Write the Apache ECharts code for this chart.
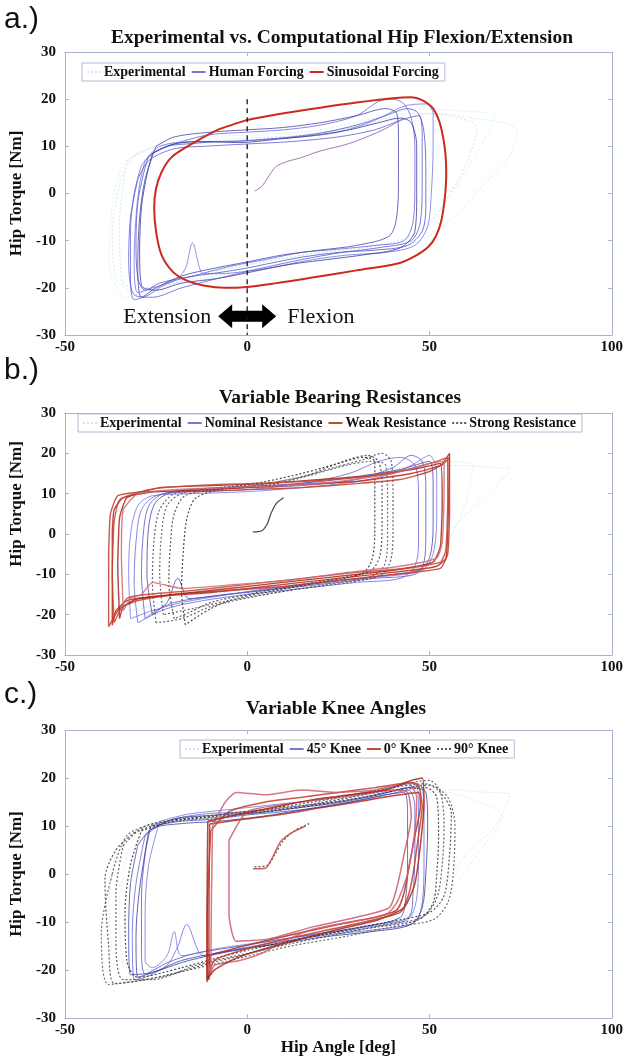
<!DOCTYPE html>
<html>
<head>
<meta charset="utf-8">
<script src="https://cdn.jsdelivr.net/npm/echarts@6/dist/echarts.min.js"></script>
<style>html,body{margin:0;padding:0;background:#fff}#c{width:626px;height:1057px}</style>
</head>
<body>
<div id="c"></div>
<script>
// ---------- axis ranges / tick labels ----------
const X_MIN = -50, X_MAX = 100, X_STEP = 50;
const Y_MIN = -30, Y_MAX = 30, Y_STEP = 10;

// ---------- legends / titles ----------
const LEGEND_A = ['Experimental', 'Human Forcing', 'Sinusoidal Forcing'];
const LEGEND_B = ['Experimental', 'Nominal Resistance', 'Weak Resistance', 'Strong Resistance'];
const LEGEND_C = ['Experimental', '45° Knee', '0° Knee', '90° Knee'];
const TITLES = ['Experimental vs. Computational Hip Flexion/Extension', 'Variable Bearing Resistances', 'Variable Knee Angles'];
const PANEL_TAGS = ['a.)', 'b.)', 'c.)'];

// ---------- panel a data (hip angle [deg], hip torque [Nm]) ----------
const A_SIN = [[[0,15.6],[10,17],[20,18.2],[30,19.3],[40,20.2],[45,20.4],[48,19.8],[51,18],[53,14.5],[54.3,9],[54.6,4],[54.2,-1],[53.3,-5.6],[51.8,-9],[49.7,-11.3],[46,-13.3],[41.6,-14.8],[30,-16.3],[18.8,-17.7],[8,-19],[0,-19.8],[-6,-20],[-12,-19.5],[-17,-18.3],[-20.5,-16.5],[-23.5,-13],[-25,-8],[-25.5,-3],[-25,1],[-23.5,4.5],[-21,7.5],[-17.4,9.5],[-13,11.5],[-8.4,13.4],[-4,14.6],[0,15.6]]];
const A_HUMAN = [
 [[-27,8],[-22,10],[-15,10.6],[-8,11],[0,11.2],[10,11.8],[20,12.8],[30,14.5],[38,16.5],[44,18],[47,17],[48.5,13],[49,5],[49,-3],[48,-8],[44,-11],[35,-12],[25,-12.5],[15,-13.5],[5,-15],[0,-15.8],[-8,-16.8],[-17,-17.8],[-24,-19],[-28,-20.5],[-30,-18],[-30.5,-10],[-30,-2],[-28.5,4],[-27,8]],
 [[-29,6],[-25,9],[-18,11],[-10,12.5],[0,13],[10,13.5],[20,14.5],[30,16.5],[36,19.5],[40,20],[43,19],[45,16],[46,10],[46,2],[45.5,-6],[43,-10],[35,-11],[25,-11.8],[15,-12.5],[5,-14],[-5,-15.5],[-15,-17.5],[-22,-19],[-27,-21.5],[-31,-22.5],[-32,-18],[-32,-8],[-31,0],[-29,6]],
 [[-25,10],[-20,12],[-10,13],[0,13.5],[10,14],[20,15],[30,16.5],[38,18],[41,17],[41.5,12],[41.5,3],[41,-5],[39,-9],[30,-11],[20,-12],[10,-13],[0,-14.5],[-10,-16],[-18,-17.5],[-25,-20],[-29,-22],[-30,-15],[-29.5,-5],[-28,3],[-25,10]],
 [[-28,7],[-24,10],[-15,11],[-5,11],[5,11.5],[15,12],[25,13],[35,15.5],[43,18.5],[49,19],[51,17],[51,10],[50.5,0],[49.5,-7],[46,-11],[38,-12.5],[28,-13],[18,-14],[8,-15.5],[0,-16.5],[-8,-17],[-12,-17],[-15,-10.5],[-17,-16],[-20,-18.5],[-26,-20],[-30,-21],[-31,-14],[-30.5,-5],[-29.5,2],[-28,7]],
 [[-26,8.5],[-20,10.5],[-12,11],[-2,10.8],[8,11.5],[18,12.3],[28,13.5],[36,15],[42,16],[45,15],[46.5,10],[46.5,0],[46,-8],[42,-11.5],[32,-13],[22,-14],[12,-15],[2,-16.5],[-8,-18],[-18,-19],[-25,-20.5],[-29,-19.5],[-29.5,-12],[-29,-3],[-27.5,4],[-26,8.5]],
 [[-30,3],[-27,7],[-20,9.5],[-12,10],[0,10.5],[12,11],[25,12],[35,13.5],[42,15.5],[47,16.5],[48,12],[48,2],[47.5,-6],[45,-10],[36,-11.5],[26,-12.5],[15,-14],[3,-16],[-8,-18],[-18,-20],[-26,-22],[-31,-21.5],[-32.5,-14],[-32,-5],[-30,3]],
 [[2,0.5],[4,1.5],[5.5,3.2],[7.9,5.7],[11,6.8],[14.4,7.5],[20,9],[28,10.6],[37,13.4],[43,16]]
];
const A_EXP = [
 [[-35,2],[-31,8],[-20,10.5],[-5,11],[10,12],[25,13.5],[40,15.5],[52,17],[62,16],[70,15],[74,13.5],[72,8],[65,2],[58,-4],[50,-9],[40,-12],[25,-13.5],[10,-15],[-5,-17],[-20,-19],[-30,-21],[-36,-18],[-37,-8],[-35,2]],
 [[-37,-2],[-34,6],[-26,10],[-10,12],[5,12.5],[20,13.5],[35,16],[48,18],[58,17.5],[68,16.5],[64,10],[56,0],[50,-6],[42,-10],[28,-12],[12,-13.5],[-5,-16],[-22,-19],[-33,-22],[-38,-14],[-37,-2]],
 [[-33,7],[-25,10],[-12,11],[2,11.8],[18,12.5],[32,14.5],[45,17],[55,16.5],[63,14],[60,6],[54,-2],[48,-8],[36,-11],[20,-12.5],[4,-14.5],[-12,-17],[-26,-20],[-34,-19],[-35,-6],[-33,7]]
];
const A_ZERO_LINE = [[0,20],[0,-30]];
const A_ARROW_AT = [[0,-26]];

// ---------- panel b data ----------
const B_WEAK = [
 [[-37,-22.6],[-37,0],[-36.5,6],[-34,9],[-25,10.5],[-10,11],[0,11.5],[15,12.3],[30,13],[45,15],[53,17],[55.5,20],[55.3,10],[55,0],[54.5,-6],[52,-8],[45,-9],[30,-10.5],[20,-11.5],[5,-13],[-10,-14.5],[-25,-15.5],[-33,-16.5],[-36,-19],[-37,-22.6]],
 [[-38,-23],[-38,-5],[-37.5,5],[-35.5,9.5],[-28,10.5],[-15,10.5],[0,11],[15,11.5],[30,12.5],[42,13.5],[50,15.5],[54,17.5],[55.5,19],[55.5,5],[55,-5],[53,-8.5],[40,-10],[25,-11.5],[10,-13],[-5,-14],[-20,-15],[-30,-16.5],[-35,-18.5],[-38,-23]],
 [[-35,-21],[-35.5,-8],[-35,4],[-33,9],[-24,11.5],[-10,12],[5,12.5],[20,13.5],[35,14.5],[48,16.5],[53,17.5],[53.5,8],[53,-3],[51,-7],[40,-9],[25,-10.5],[10,-12],[-5,-13.5],[-20,-15],[-30,-16],[-34,-18],[-35,-21]],
 [[-36.5,-22],[-37,-10],[-36.5,3],[-35,8.5],[-27,11],[-15,12],[0,12.5],[15,13],[30,14],[44,16],[52,18],[55,19],[55,8],[54.5,-4],[53,-7],[44,-8.5],[30,-9.5],[15,-11],[0,-12.5],[-15,-14],[-28,-15],[-33,-16],[-36.5,-22]],
 [[-34,-19],[-34.5,-5],[-34,6],[-30,10],[-20,11],[-5,11.5],[10,12],[25,13],[40,15],[50,17.5],[54,18],[54,10],[53.5,-2],[52,-6],[42,-8],[28,-9.5],[12,-11.5],[-3,-12.5],[-18,-13.5],[-26,-12],[-29,-15],[-32,-16],[-34,-19]]
];
const B_NOMINAL = [
 [[-28,-21],[-29,-10],[-28.5,0],[-27,7],[-23,10],[-12,11],[0,11.5],[15,12],[30,13.5],[40,16.5],[45,19.5],[48,18],[49,12],[49,0],[48.5,-7],[46,-10],[35,-11],[20,-12.5],[5,-14],[-10,-15.5],[-20,-17],[-25,-19],[-28,-21]],
 [[-30,-22],[-31,-12],[-30.5,-2],[-29,6],[-25,9.5],[-15,10.5],[0,11],[15,12.5],[28,15],[36,18],[42,19],[46,17],[47,10],[47,-2],[46,-8],[42,-11],[30,-12],[15,-13.5],[0,-15],[-12,-16.5],[-22,-18.5],[-30,-22]],
 [[-26,-20],[-27.5,-10],[-27,2],[-25,8],[-20,10.5],[-8,11.5],[5,12],[20,13],[32,14.5],[42,16],[50,18],[51,12],[51,2],[50,-6],[47,-9],[36,-10.5],[22,-12],[8,-13.5],[-6,-15],[-16,-16],[-19,-11],[-22,-17],[-26,-20]],
 [[-32,-21],[-32.5,-10],[-32,0],[-30,7],[-26,9.5],[-15,10],[0,10.5],[15,11.5],[30,13],[40,15],[46,17.5],[50,19.5],[52,15],[52,5],[51,-5],[48,-9],[38,-10.5],[25,-11.5],[10,-13],[-5,-15],[-18,-17],[-26,-19],[-32,-21]]
];
const B_STRONG = [
 [[-20,-21],[-21.5,-12],[-21,-2],[-20,5],[-17,9.5],[-8,11],[5,12],[15,14],[22,16.5],[28,18.5],[33,19.5],[36,18],[37,12],[37,3],[36.5,-5],[34,-9],[25,-11],[12,-13],[0,-15],[-10,-17],[-16,-19.5],[-20,-21]],
 [[-25,-22],[-26,-12],[-25.5,-1],[-24,6],[-20,10],[-10,11],[2,12],[14,14],[24,16.5],[32,18.5],[37,20],[39.5,18],[40,10],[40,1],[39.5,-6],[37,-10],[28,-12],[15,-13.5],[2,-15.5],[-10,-18],[-18,-21],[-25,-22]],
 [[-17,-22.5],[-18,-14],[-17.5,-4],[-16.5,4],[-14,9],[-5,11.5],[5,13],[15,15],[25,17.5],[32,19],[35,18],[35,10],[35,0],[34,-7],[31,-10],[20,-12],[8,-14],[-3,-16],[-10,-18.5],[-17,-22.5]],
 [[-23,-20],[-24,-10],[-23.5,0],[-22,7],[-18,10],[-8,11.5],[5,12.5],[17,14.5],[27,17],[34,18],[38,17],[38.5,8],[38.5,-2],[37.5,-8],[34,-10.5],[22,-12.5],[8,-14.5],[-5,-16.5],[-15,-18.5],[-23,-20]]
];
const B_START = [[[1.5,0.5],[4,0.8],[5.5,2.5],[6.5,5],[8,7.6],[10,9]]];
const B_EXP = [
 [[-38,-10],[-36,5],[-28,10],[-10,11],[10,12],[30,14],[48,17],[58,17],[68,16.5],[72,16],[66,10],[58,3],[52,-6],[40,-9],[20,-11],[0,-13],[-20,-16],[-32,-19],[-38,-10]],
 [[-35,0],[-30,9],[-15,11.5],[5,12.5],[25,14],[42,16],[54,18],[62,17],[60,8],[55,-2],[48,-8],[30,-10],[10,-12.5],[-10,-15],[-28,-18],[-36,-14],[-35,0]]
];

// ---------- panel c data ----------
const C_K0 = [
 [[-10.3,10.4],[0,11.5],[10,12.5],[20,13.8],[30,15],[40,16.3],[47,17],[47.5,14],[46,8],[44.5,2],[43,-4],[41,-7.5],[35,-9],[25,-10.5],[12.5,-12.6],[0,-14.8],[-6,-16],[-10,-17],[-10.5,-22],[-10.5,-10],[-10.3,10.4]],
 [[-10,9],[-5,13],[5,15],[15,16],[25,17],[35,18],[45,19],[47,18.5],[48,14],[47,8],[45.5,0],[44,-5],[42,-8],[32,-10],[20,-12],[8,-14],[-2,-16],[-9,-18],[-11,-22.5],[-11,-10],[-10,9]],
 [[-9.5,10],[-6,15],[-3,17],[5,16.5],[15,17.5],[25,17],[35,17.5],[44,19],[46.5,16],[46,9],[44,0],[41,-6],[38,-8.5],[28,-10],[18,-11.5],[10,-14],[4,-16.5],[-2,-18],[-9,-19],[-10,-21],[-9.8,-5],[-9.5,10]],
 [[-5,7],[0,13],[10,14.5],[20,15.5],[30,16.5],[40,17.5],[44,17],[45,12],[43,4],[41,-3],[39,-7],[30,-9],[18,-11],[6,-13.5],[-3,-14],[-5,-8],[-5,7]],
 [[-10.8,11],[-2,12.5],[8,14],[18,15.5],[28,16.5],[38,17.5],[45,19.5],[48,20],[48.5,15],[47.5,6],[46,-2],[43,-7],[36,-9.5],[25,-11.5],[15,-13.5],[5,-15.5],[-3,-17.5],[-9,-20],[-11,-22],[-11,-5],[-10.8,11]],
 [[1.6,1.1],[5,1.2],[7,3.5],[9,6.6],[12,8.5],[16,10]]
];
const C_K45 = [
 [[-26.4,10],[-18,11],[-10,11.4],[0,12.3],[10,13],[21.5,14],[32,15.5],[40,16.8],[44.3,17.5],[46,14],[46,5],[45.5,-4],[44.3,-9],[35,-10.5],[25,-11.8],[12.5,-13.2],[0,-14.8],[-14.7,-16.6],[-22,-18.5],[-28,-20.8],[-29,-15],[-29,-5],[-28,4],[-26.4,10]],
 [[-28,8],[-22,11],[-12,12.5],[0,13],[12,14],[24,15],[35,16.5],[44,18],[47.5,18.5],[48.5,12],[48.5,2],[48,-6],[46,-10],[36,-11.5],[24,-12.5],[10,-14],[-2,-15.5],[-12,-17],[-16.6,-10.5],[-19,-15],[-22,-19],[-28,-21.5],[-31,-22],[-31.5,-12],[-30.5,-2],[-28,8]],
 [[-30,6],[-26,9.5],[-18,10.5],[-8,11],[4,12],[16,13.5],[28,15],[38,16.5],[43,17],[44,12],[44,3],[43.5,-5],[42,-9],[32,-11],[20,-12.5],[8,-14.5],[-5,-16],[-18,-18],[-26,-20.5],[-32,-21],[-32.5,-12],[-32,-2],[-30,6]],
 [[-24,11],[-16,12.5],[-4,13.5],[8,14.5],[20,15.5],[32,17],[42,18.5],[46,19],[47,14],[47,4],[46.5,-5],[44,-9.5],[33,-11],[20,-12.5],[6,-14],[-8,-15.5],[-18,-17],[-20,-12],[-22,-17],[-26,-19.5],[-28,-18],[-28,-8],[-27,2],[-24,11]],
 [[-27,9],[-20,11.5],[-10,12.2],[2,12.8],[14,13.8],[26,15],[36,16.5],[45,18],[49,17],[49.5,10],[49,0],[48,-7],[45,-10.5],[34,-12],[22,-13],[9,-14.5],[-4,-16],[-16,-18],[-24,-20],[-30,-21.5],[-30.5,-13],[-29.5,-3],[-27,9]]
];
const C_K90 = [
 [[-31,8.6],[-22,11],[-10,12],[-5.6,12.6],[5,13.5],[18,15],[30,16.5],[40,18],[48.7,18.8],[53,17],[56,12.6],[55.5,4],[54,-4.5],[50,-8],[39.7,-9.8],[28,-11.5],[15,-13.5],[3.5,-16],[-10,-18.5],[-23.6,-21.4],[-36.4,-22.8],[-38,-15],[-39,-1],[-36,5],[-31,8.6]],
 [[-34,6],[-28,10],[-18,11.5],[-6,12.5],[8,13.5],[22,15],[35,17],[45,19],[50,19.5],[53,17],[54,10],[53.5,2],[52,-5],[48,-9],[38,-10.5],[25,-12.5],[12,-14.5],[0,-16.5],[-14,-19],[-26,-22],[-34,-22],[-36,-14],[-36,-4],[-34,6]],
 [[-29,9],[-20,11],[-8,12],[6,13],[20,14.5],[32,16],[42,17.5],[49,18],[52,16],[52.5,8],[52,0],[51,-6],[47,-9.5],[36,-11],[22,-12.5],[8,-14.5],[-6,-17],[-18,-19.5],[-30,-21.5],[-33,-18],[-33.5,-8],[-32,2],[-29,9]],
 [[-37,0],[-33,8],[-25,10.5],[-12,11.5],[0,12.5],[14,14],[28,16],[40,17.5],[50,18.5],[55,16],[57,10],[56.5,0],[55,-6],[51,-9.5],[40,-11],[27,-13],[12,-15],[-2,-17.5],[-16,-20],[-28,-22],[-38,-23],[-40,-12],[-37,0]],
 [[2,1.5],[5.5,1.8],[7.5,4],[10,7],[13,9],[17,10.5]]
];
const C_EXP = [
 [[-38,-5],[-35,6],[-26,10.5],[-10,12],[10,13],[30,15],[46,17.5],[56,17.5],[66,17],[72,16.5],[68,10],[60,4],[54,-2],[46,-8],[30,-10.5],[10,-13],[-10,-16],[-28,-20],[-37,-16],[-38,-5]],
 [[-33,4],[-27,9],[-14,11],[5,12],[25,14],[42,16.5],[54,17],[62,15.5],[70,12],[64,5],[56,-3],[48,-8],[32,-11],[12,-13.5],[-8,-16.5],[-25,-20],[-34,-19],[-35,-6],[-33,4]]
];

// ---------- styles ----------
const SERIF = '"Liberation Serif", "Times New Roman", serif';
const AXIS_COLOR = '#a7b3cf';
const ST_EXP = {colors:['#8fcfe8','#a6d9ee','#7fc4e2'], width:0.9, type:[2,2], opacity:0.45, smooth:0.3, z:2};
const ST_BLUE = {colors:['#4b4bc4','#5e5ed8','#3a3aa6','#6c6ce0','#2f2f92','#5454cc','#8a4a9a'], width:1, type:'solid', opacity:0.75, smooth:0.3, z:3};
const ST_SIN = {colors:['#cc2a1e'], width:2, type:'solid', opacity:1, smooth:0.35, z:5};
const ST_RED_B = {colors:['#b8281a','#c23a2a','#a52818','#c84434','#cf6a78'], width:1.4, type:'solid', opacity:0.85, smooth:0.15, z:5};
const ST_DOT = {colors:['#3a3a3a','#4a4a55','#2a2a2a','#555560'], width:1.2, type:[2,2], opacity:0.85, smooth:0.3, z:4};
const ST_DARK = {colors:['#333333'], width:1.2, type:'solid', opacity:0.9, smooth:0.3, z:4};
const ST_RED_C = {colors:['#b5281a','#c23a2a','#d06070','#c85a6a','#a82616','#c24a3a'], width:1.5, type:'solid', opacity:0.85, smooth:0.2, z:5};

const grids = [
  {left:60, top:52, width:552, height:283},
  {left:60, top:413, width:552, height:242},
  {left:60, top:730, width:552, height:292}
];

const series = [];
function addLoops(g, name, loops, st) {
  loops.forEach((pts, i) => {
    const col = st.colors[i % st.colors.length];
    series.push({
      type:'line', name:name, xAxisIndex:g*2, yAxisIndex:g*2, data:pts,
      symbol:'none', smooth:st.smooth, silent:true, z:st.z,
      lineStyle:{color:col, width:st.width, type:st.type, opacity:st.opacity},
      itemStyle:{color:st.colors[0]}
    });
  });
}
// panel a
addLoops(0, 'Experimental', A_EXP, ST_EXP);
addLoops(0, 'Human Forcing', A_HUMAN, ST_BLUE);
addLoops(0, 'Sinusoidal Forcing', A_SIN, ST_SIN);
// panel b
addLoops(1, 'Experimental', B_EXP, ST_EXP);
addLoops(1, 'Nominal Resistance', B_NOMINAL, ST_BLUE);
addLoops(1, 'Strong Resistance', B_STRONG, ST_DOT);
addLoops(1, 'Weak Resistance', B_WEAK, ST_RED_B);
addLoops(1, 'Strong Resistance', B_START, ST_DARK);
// panel c
addLoops(2, 'Experimental', C_EXP, ST_EXP);
addLoops(2, '90° Knee', C_K90, ST_DOT);
addLoops(2, '45° Knee', C_K45, ST_BLUE);
addLoops(2, '0° Knee', C_K0, ST_RED_C);

// zero line + arrow annotation for panel a
series.push({
  type:'line', xAxisIndex:0, yAxisIndex:0, data:A_ZERO_LINE, symbol:'none', silent:true, z:8,
  lineStyle:{color:'#111', width:1.3, type:[5,4]}
});
series.push({
  type:'custom', xAxisIndex:0, yAxisIndex:0, data:A_ARROW_AT, silent:true, z:7, clip:false,
  renderItem: function(params, api) {
    const c = api.coord([api.value(0), api.value(1)]);
    const rel = [[-29,0],[-15,-12],[-15,-5.5],[15,-5.5],[15,-12],[29,0],[15,12],[15,5.5],[-15,5.5],[-15,12]];
    return {type:'group', children:[
      {type:'polygon', shape:{points:rel.map(p => [c[0]+p[0], c[1]+p[1]])}, style:{fill:'#000'}},
      {type:'text', style:{text:'Extension', x:c[0]-36, y:c[1]+1, textAlign:'right', textVerticalAlign:'middle', font:'22px ' + SERIF, fill:'#111'}},
      {type:'text', style:{text:'Flexion', x:c[0]+40, y:c[1]+1, textAlign:'left', textVerticalAlign:'middle', font:'22px ' + SERIF, fill:'#111'}}
    ]};
  }
});

const tickLabel = {fontFamily:SERIF, fontWeight:'bold', fontSize:15, color:'#111'};
const xAxes = [], yAxes = [];
grids.forEach((g, i) => {
  xAxes.push({
    type:'value', gridIndex:i, min:X_MIN, max:X_MAX, interval:X_STEP, position:'bottom',
    axisLine:{show:true, onZero:false, lineStyle:{color:AXIS_COLOR, width:1}},
    axisTick:{show:true, inside:true, length:4, lineStyle:{color:AXIS_COLOR}},
    axisLabel:Object.assign({margin:5}, tickLabel),
    splitLine:{show:false},
    name: i === 2 ? 'Hip Angle [deg]' : '', nameLocation:'middle', nameGap:11,
    nameTextStyle:{fontFamily:SERIF, fontWeight:'bold', fontSize:17, color:'#111'}
  });
  xAxes.push({
    type:'value', gridIndex:i, min:X_MIN, max:X_MAX, interval:X_STEP, position:'top',
    axisLine:{show:true, onZero:false, lineStyle:{color:AXIS_COLOR, width:1}},
    axisTick:{show:true, inside:true, length:4, lineStyle:{color:AXIS_COLOR}},
    axisLabel:{show:false}, splitLine:{show:false}
  });
  yAxes.push({
    type:'value', gridIndex:i, min:Y_MIN, max:Y_MAX, interval:Y_STEP, position:'left',
    axisLine:{show:true, onZero:false, lineStyle:{color:AXIS_COLOR, width:1}},
    axisTick:{show:true, inside:true, length:4, lineStyle:{color:AXIS_COLOR}},
    axisLabel:Object.assign({margin:9}, tickLabel),
    splitLine:{show:false},
    name:'Hip Torque [Nm]', nameLocation:'middle', nameGap:24,
    nameTextStyle:{fontFamily:SERIF, fontWeight:'bold', fontSize:17, color:'#111', padding: i === 1 ? [0,0,0,60] : 0}
  });
  yAxes.push({
    type:'value', gridIndex:i, min:Y_MIN, max:Y_MAX, interval:Y_STEP, position:'right',
    axisLine:{show:true, onZero:false, lineStyle:{color:AXIS_COLOR, width:1}},
    axisTick:{show:true, inside:true, length:4, lineStyle:{color:AXIS_COLOR}},
    axisLabel:{show:false}, splitLine:{show:false}
  });
});

function legend(names, left, top) {
  return {
    data:names, left:left, top:top, orient:'horizontal', selectedMode:false,
    itemWidth:14, itemHeight:8, itemGap:5, padding:[2,6,2,4],
    itemStyle:{opacity:0},
    borderColor:'#b3bcd4', borderWidth:1, backgroundColor:'#fff',
    textStyle:{fontFamily:SERIF, fontWeight:'bold', fontSize:14, color:'#111', padding:[0,0,0,-2]}
  };
}

const titleY = [38, 398, 709];
const tagY = [22, 373, 697];
const titleX = [342, 340, 336];
const graphic = [];
for (let i = 0; i < 3; i++) {
  graphic.push({type:'text', left:4, top:tagY[i]-17, style:{text:PANEL_TAGS[i], font:'30px "Liberation Sans", Arial, sans-serif', fill:'#111'}});
  graphic.push({type:'text', x:titleX[i], y:titleY[i], style:{text:TITLES[i], textAlign:'center', textVerticalAlign:'middle', font:'bold 19.5px ' + SERIF, fill:'#111'}});
}

const chart = echarts.init(document.getElementById('c'), null, {renderer:'canvas'});
chart.setOption({
  animation:false,
  backgroundColor:'#fff',
  grid:grids,
  xAxis:xAxes,
  yAxis:yAxes,
  legend:[legend(LEGEND_A, 82, 63), legend(LEGEND_B, 78, 414), legend(LEGEND_C, 180, 740)],
  graphic:graphic,
  series:series
});
</script>
</body>
</html>
